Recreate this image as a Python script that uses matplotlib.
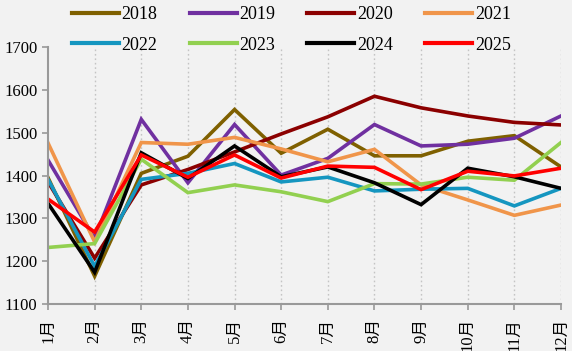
import matplotlib
matplotlib.use("Agg")
import matplotlib.pyplot as plt

months = ["1月", "2月", "3月", "4月", "5月", "6月", "7月", "8月", "9月", "10月", "11月", "12月"]
years = ["2018", "2019", "2020", "2021", "2022", "2023", "2024", "2025"]

s2018 = [1395, 1165, 1405, 1445, 1554, 1452, 1508, 1446, 1446, 1480, 1493, 1420]
s2019 = [1436, 1253, 1531, 1383, 1519, 1401, 1440, 1519, 1469, 1473, 1487, 1539]
s2020 = [1385, 1207, 1378, 1414, 1455, 1497, 1537, 1585, 1558, 1539, 1524, 1518]
s2021 = [1476, 1245, 1477, 1473, 1489, 1462, 1432, 1461, 1378, 1343, 1307, 1331]
s2022 = [1391, 1188, 1391, 1405, 1428, 1385, 1396, 1364, 1368, 1370, 1329, 1370]
s2023 = [1232, 1241, 1438, 1360, 1378, 1362, 1339, 1381, 1380, 1396, 1389, 1477]
s2024 = [1335, 1174, 1453, 1393, 1469, 1397, 1420, 1383, 1332, 1417, 1397, 1370]
s2025 = [1345, 1268, 1448, 1396, 1448, 1394, 1422, 1419, 1367, 1410, 1399, 1417]

series = [s2018, s2019, s2020, s2021, s2022, s2023, s2024, s2025]
colors = ["#7f6000", "#7030a0", "#8b0000", "#f0954a", "#1596c0", "#92d050", "#000000", "#ff0000"]

bg = "#f2f2f2"
fig = plt.figure(figsize=(5.72, 3.51), dpi=100, facecolor=bg)
ax = fig.add_axes([48/572, 1-304/351, (561-48)/572, (304-47)/351], facecolor=bg)

x = list(range(len(months)))
handles = []
for yr, vals, c in zip(years, series, colors):
    h, = ax.plot(x, vals, color=c, lw=2.6, label=yr, solid_joinstyle="miter")
    handles.append(h)

ax.set_xlim(0, 11)
ax.set_ylim(1100, 1700)
ax.set_yticks(range(1100, 1701, 100))
ax.set_xticks(x)
ax.set_xticklabels(months, rotation=90, family=["Liberation Serif", "Noto Sans CJK SC"], fontsize=12)
for lab in ax.get_yticklabels():
    lab.set_family("Liberation Serif")
    lab.set_fontsize(12)

for xi in x[1:]:
    ax.axvline(xi, color="#c4c4c4", lw=1, ls=(0, (1.2, 2)), zorder=0)

for s in ["top", "right"]:
    ax.spines[s].set_visible(False)
for s in ["left", "bottom"]:
    ax.spines[s].set_color("#999999")
    ax.spines[s].set_linewidth(1.5)
ax.tick_params(axis="both", colors="#999999", length=4, width=1.2, labelcolor="black")
ax.tick_params(axis="x", pad=6)

# legend filled row-wise (matplotlib fills column-wise)
ncol = 4
nrow = 2
order = [r * ncol + c for c in range(ncol) for r in range(nrow)]
leg = fig.legend(handles=[handles[i] for i in order], labels=[years[i] for i in order],
                 ncol=ncol, loc="upper left",
                 bbox_to_anchor=(72/572, 1 - 6/351), frameon=False, borderaxespad=0.0,
                 borderpad=0.0,
                 prop={"family": "Liberation Serif", "size": 13},
                 handlelength=2.6, handletextpad=0.15, columnspacing=1.78,
                 labelspacing=0.75)
for lh in leg.get_lines():
    lh.set_linewidth(3)

fig.savefig("out.png", dpi=100, facecolor=bg)
